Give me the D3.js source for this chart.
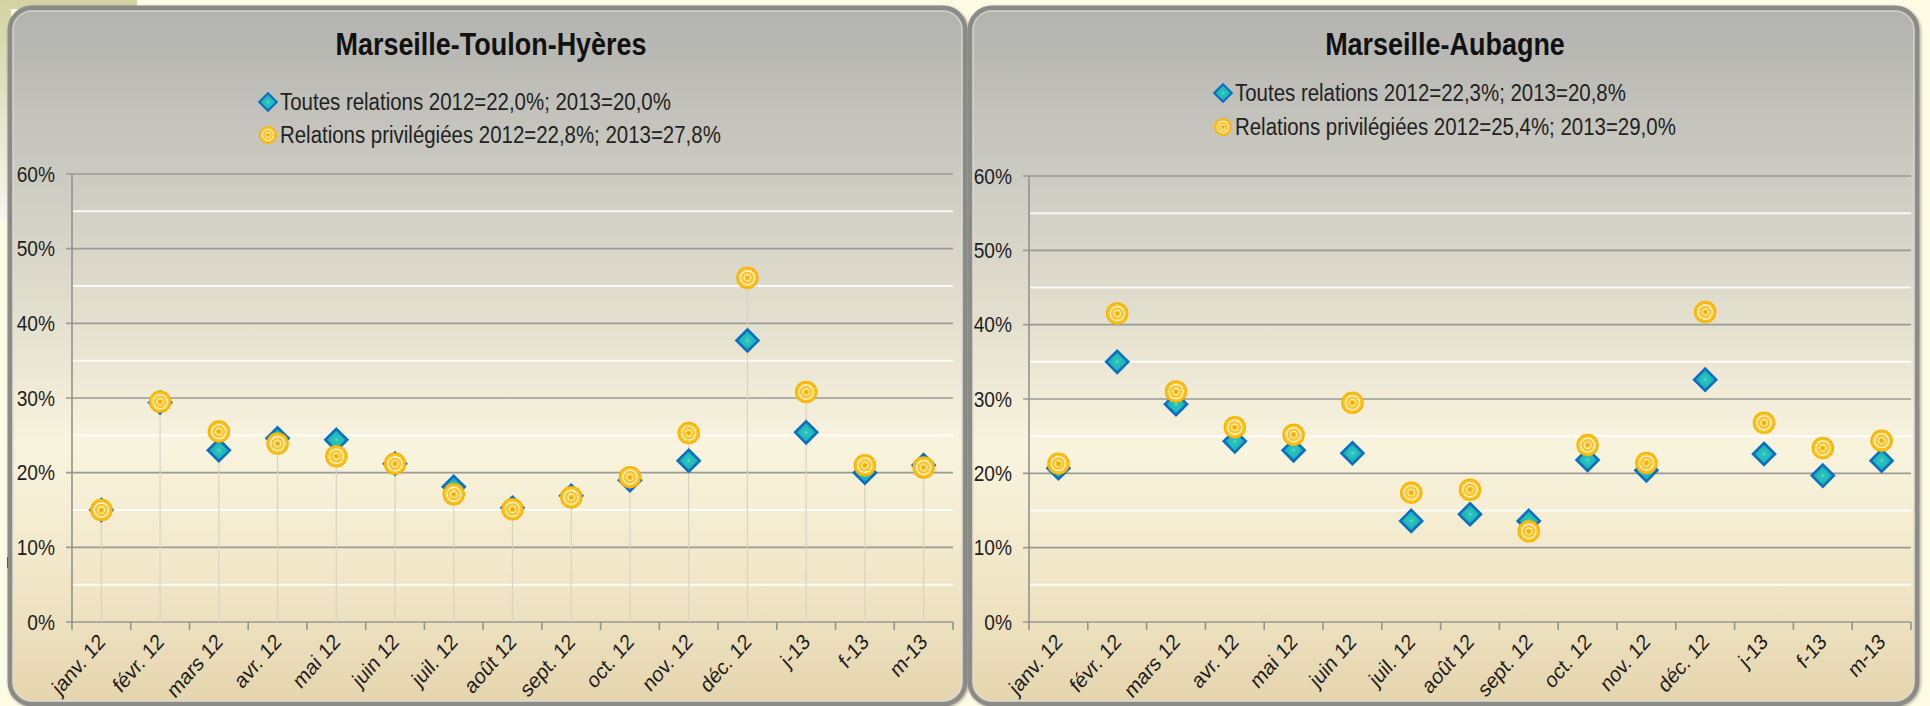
<!DOCTYPE html>
<html>
<head>
<meta charset="utf-8">
<script src="https://cdn.jsdelivr.net/npm/d3@7"></script>
<style>
  body { margin: 0; background: #fdfbe4; }
  svg { display: block; font-family: Arial, "Liberation Sans", sans-serif; }
</style>
</head>
<body>
<svg id="chart" width="1930" height="706"></svg>
<script>
/**
 * Data.
 */
const months = ['janv. 12', 'févr. 12', 'mars 12', 'avr. 12', 'mai 12', 'juin 12', 'juil. 12',
    'août 12', 'sept. 12', 'oct. 12', 'nov. 12', 'déc. 12', 'j-13', 'f-13', 'm-13'];

const yTicks = [0, 10, 20, 30, 40, 50, 60],
    yMinorTicks = [5, 15, 25, 35, 45, 55];

// Marseille-Toulon-Hyères
const mthToutes = [15.0, 29.4, 23.0, 24.6, 24.4, 21.2, 18.1, 15.3, 16.9, 19.0, 21.6, 37.7, 25.4, 20.0, 21.0],
    mthPriv = [15.0, 29.5, 25.5, 23.9, 22.2, 21.2, 17.1, 15.1, 16.7, 19.4, 25.3, 46.1, 30.8, 21.0, 20.7];

// Marseille-Aubagne
const aubToutes = [20.7, 35.0, 29.3, 24.3, 23.1, 22.7, 13.6, 14.5, 13.6, 21.8, 20.4, 32.6, 22.6, 19.7, 21.7],
    aubPriv = [21.3, 41.5, 31.0, 26.2, 25.2, 29.5, 17.4, 17.8, 12.2, 23.8, 21.4, 41.7, 26.8, 23.4, 24.4];

const titles = ['Marseille-Toulon-Hyères', 'Marseille-Aubagne'],
    legendToutes = ['Toutes relations 2012=22,0%; 2013=20,0%', 'Toutes relations 2012=22,3%; 2013=20,8%'],
    legendPriv = ['Relations privilégiées 2012=22,8%; 2013=27,8%', 'Relations privilégiées 2012=25,4%; 2013=29,0%'];

/**
 * Layout of each panel.
 */
const panels = [
    { box: [10, 8, 965, 704], plot: [72, 174, 953, 622], legend: [268, 102, 135], titleX: 491,
      toutes: mthToutes, priv: mthPriv, dropLines: true },
    { box: [970, 8, 1917, 704], plot: [1029, 176, 1911, 622], legend: [1223, 93, 127], titleX: 1445,
      toutes: aubToutes, priv: aubPriv, dropLines: false }
];

const squeeze = 0.87; // text in the picture is narrower than it is tall

const svg = d3.select('#chart');
const defs = svg.append('defs');

// Panel fill
const bg = defs.append('linearGradient').attr('id', 'panelFill')
    .attr('x1', 0).attr('y1', 0).attr('x2', 0).attr('y2', 1);
[[0, '#b2b2af'], [0.25, '#cdccc3'], [0.45, '#e4e0cf'], [0.63, '#f9f4de'], [0.8, '#f2e8ca'], [1, '#e5d5ae']]
    .forEach(s => bg.append('stop').attr('offset', s[0]).attr('stop-color', s[1]));

const leftStrip = defs.append('linearGradient').attr('id', 'leftStrip')
    .attr('x1', 0).attr('y1', 0).attr('x2', 0).attr('y2', 1);
leftStrip.append('stop').attr('offset', 0).attr('stop-color', '#d3d3a3');
leftStrip.append('stop').attr('offset', 1).attr('stop-color', '#f6f6ee');

const dia = defs.append('radialGradient').attr('id', 'diamondFill');
dia.append('stop').attr('offset', 0).attr('stop-color', '#6fe6d2');
dia.append('stop').attr('offset', 0.15).attr('stop-color', '#2cc4bc');
dia.append('stop').attr('offset', 1).attr('stop-color', '#16aab4');

const shadow = defs.append('filter').attr('id', 'frameShadow')
    .attr('x', -0.02).attr('y', -0.02).attr('width', 1.04).attr('height', 1.04);
shadow.append('feDropShadow').attr('dx', 1).attr('dy', 1).attr('stdDeviation', 1.5)
    .attr('flood-color', '#000').attr('flood-opacity', 0.35);

// Page background bits
svg.append('rect').attr('width', 1930).attr('height', 706).attr('fill', '#fdfbe4');
svg.append('rect').attr('width', 137).attr('height', 9).attr('fill', '#d3d3a3');
svg.append('rect').attr('width', 11).attr('height', 220).attr('fill', 'url(#leftStrip)');
svg.append('rect').attr('x', 7).attr('y', 557).attr('width', 2.5).attr('height', 11).attr('fill', '#3c1a4a');

function diamondPath(r) {
    return 'M0,' + -r + 'L' + r + ',0L0,' + r + 'L' + -r + ',0Z';
}

function drawDiamond(g) {
    g.append('path').attr('d', diamondPath(11))
        .attr('fill', 'url(#diamondFill)')
        .attr('stroke', '#0b6ec2').attr('stroke-width', 2.6).attr('stroke-linejoin', 'miter');
}

function drawTarget(g) {
    g.append('circle').attr('r', 10.5).attr('fill', '#ffc223').attr('stroke', '#f7b500').attr('stroke-width', 1.5);
    g.append('circle').attr('r', 7).attr('fill', 'none').attr('stroke', '#fff5d6').attr('stroke-width', 1.4);
    g.append('circle').attr('r', 3.4).attr('fill', 'none').attr('stroke', '#fff5d6').attr('stroke-width', 1.1);
    g.append('circle').attr('r', 1.4).attr('fill', '#f5a600');
}

function squeezedText(parent, x, y, str) {
    return parent.append('text')
        .attr('transform', 'translate(' + x + ',' + y + ') scale(' + squeeze + ',1)')
        .text(str);
}

panels.forEach((p, pi) => {
    const [bx0, by0, bx1, by1] = p.box,
        [px0, py0, px1, py1] = p.plot;

    const g = svg.append('g').attr('class', 'panel');

    // Frame
    g.append('rect')
        .attr('x', bx0).attr('y', by0).attr('width', bx1 - bx0).attr('height', by1 - by0)
        .attr('rx', 22).attr('ry', 22)
        .attr('fill', 'url(#panelFill)')
        .attr('stroke', '#8b8b87').attr('stroke-width', 5)
        .attr('filter', 'url(#frameShadow)');
    g.append('rect')
        .attr('x', bx0 + 3).attr('y', by0 + 3).attr('width', bx1 - bx0 - 6).attr('height', by1 - by0 - 6)
        .attr('rx', 19).attr('ry', 19)
        .attr('fill', 'none').attr('stroke', '#d9d9d4').attr('stroke-opacity', 0.8).attr('stroke-width', 1.5);

    const x = d3.scaleBand().domain(months).range([px0, px1]),
        y = d3.scaleLinear().domain([0, 60]).range([py1, py0]),
        cx = m => x(m) + x.bandwidth() / 2;

    // Minor white gridlines
    g.append('g').selectAll('line').data(yMinorTicks).join('line')
        .attr('x1', px0 + 1).attr('x2', px1)
        .attr('y1', d => y(d)).attr('y2', d => y(d))
        .attr('stroke', '#ffffff').attr('stroke-opacity', 0.85).attr('stroke-width', 2);

    // Major gridlines with their ticks
    g.append('g').selectAll('line').data(yTicks).join('line')
        .attr('x1', px0 - 6).attr('x2', px1)
        .attr('y1', d => y(d)).attr('y2', d => y(d))
        .attr('stroke', '#9a9a96').attr('stroke-width', 1.6);

    // Y axis line
    g.append('line').attr('x1', px0).attr('x2', px0).attr('y1', py0).attr('y2', py1)
        .attr('stroke', '#929290').attr('stroke-width', 1.6);

    // Y tick labels
    const yl = g.append('g').attr('font-size', 22).attr('fill', '#1e1e1e').attr('text-anchor', 'end');
    yTicks.forEach(t => squeezedText(yl, px0 - 17, y(t) + 7.5, t + '%'));

    // X ticks at category boundaries
    const bounds = months.map(m => x(m)).concat([px1]);
    g.append('g').selectAll('line').data(bounds).join('line')
        .attr('x1', d => d).attr('x2', d => d).attr('y1', py1).attr('y2', py1 + 8)
        .attr('stroke', '#929290').attr('stroke-width', 1.6);

    // X tick labels: rotated, then squeezed like the rest of the picture
    g.append('g').attr('font-size', 22).attr('fill', '#1e1e1e').attr('text-anchor', 'end')
        .selectAll('text').data(months).join('text')
        .attr('transform', d => 'translate(' + (cx(d) + 5) + ',' + (py1 + 21) + ') scale(' + squeeze + ',1) rotate(-45)')
        .text(d => d);

    // Drop lines
    if (p.dropLines) {
        g.append('g').selectAll('line').data(months).join('line')
            .attr('x1', d => cx(d)).attr('x2', d => cx(d))
            .attr('y1', (d, i) => y(Math.max(p.toutes[i], p.priv[i])))
            .attr('y2', py1)
            .attr('stroke', '#d8d3c4').attr('stroke-width', 1.2);
    }

    // Toutes relations
    g.append('g').selectAll('g').data(p.toutes).join('g')
        .attr('transform', (d, i) => 'translate(' + cx(months[i]) + ',' + y(d) + ')')
        .each(function() { drawDiamond(d3.select(this)); });

    // Relations privilégiées
    g.append('g').selectAll('g').data(p.priv).join('g')
        .attr('transform', (d, i) => 'translate(' + cx(months[i]) + ',' + y(d) + ')')
        .each(function() { drawTarget(d3.select(this)); });

    // Title
    g.append('g').attr('font-size', 31).attr('font-weight', 'bold').attr('fill', '#111')
        .attr('text-anchor', 'middle')
        .call(t => squeezedText(t, p.titleX, 55, titles[pi]));

    // Legend
    const [lx, ly1, ly2] = p.legend;
    const lg = g.append('g');
    const m1 = lg.append('g').attr('transform', 'translate(' + lx + ',' + ly1 + ') scale(0.8)');
    drawDiamond(m1);
    const m2 = lg.append('g').attr('transform', 'translate(' + lx + ',' + ly2 + ') scale(0.8)');
    drawTarget(m2);
    const lt = lg.append('g').attr('font-size', 23.5).attr('fill', '#222');
    squeezedText(lt, lx + 12, ly1 + 8, legendToutes[pi]);
    squeezedText(lt, lx + 12, ly2 + 8, legendPriv[pi]);
});
</script>
</body>
</html>
